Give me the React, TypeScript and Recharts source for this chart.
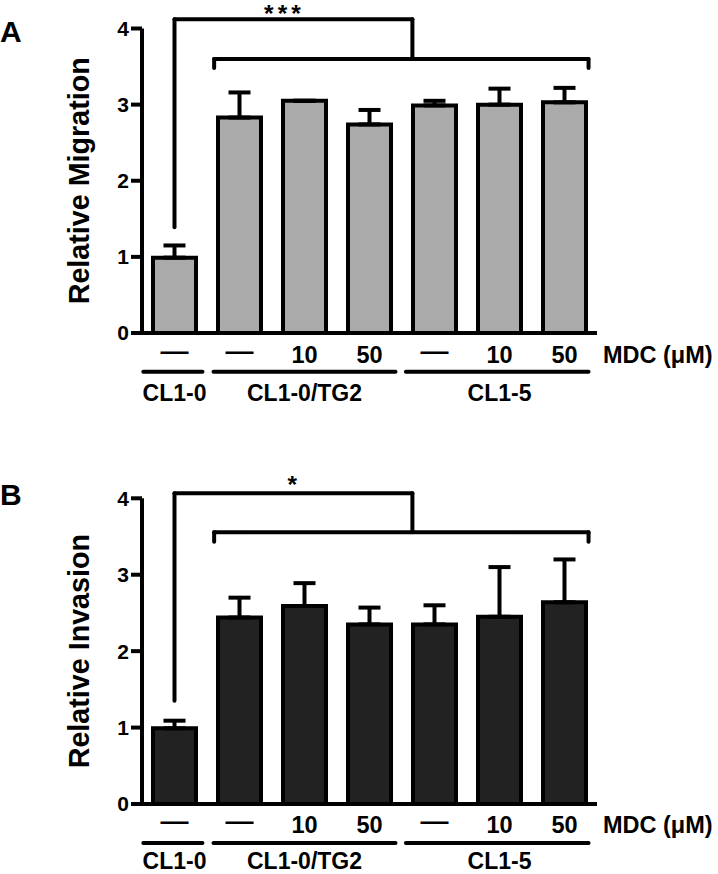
import React from 'react';
import { BarChart, Bar, XAxis, YAxis, ErrorBar, ReferenceLine, ReferenceDot } from 'recharts';

const FONT = '"Liberation Sans", Arial, Helvetica, sans-serif';

// categories (bar positions along the x axis) and their labels
const positions = [0, 1, 2, 3, 4, 5, 6];
const doseLabels = ['—', '—', '10', '50', '—', '10', '50'];
const groupLabels = ['CL1-0', '', 'CL1-0/TG2', '', '', 'CL1-5', ''];
const yTicks = [0, 1, 2, 3, 4];

// Panel A: relative migration
const migrationMean = [0.99, 2.83, 3.05, 2.74, 2.99, 3.0, 3.03];
const migrationSem = [0.16, 0.33, 0, 0.19, 0.06, 0.21, 0.19];

// Panel B: relative invasion
const invasionMean = [0.99, 2.44, 2.59, 2.35, 2.35, 2.45, 2.64];
const invasionSem = [0.1, 0.26, 0.3, 0.22, 0.25, 0.65, 0.56];

// group underline spans (in x-axis units)
const underlineSpans: [number, number][] = [
  [-0.48, 0.43],
  [0.6, 3.4],
  [3.56, 6.37],
];
const underlineY = -0.51;

// significance brackets (x in axis units, y in data units)
const outerBracketX: [number, number] = [0, 3.66];
const innerBracketX: [number, number] = [0.61, 6.37];
const bracketsA = { outerTop: 4.12, outerLeftBottom: 1.39, innerY: 3.6, innerTip: 3.48, stars: '***', starX: 1.66, starY: 4.08 };
const bracketsB = { outerTop: 4.067, outerLeftBottom: 1.35, innerY: 3.556, innerTip: 3.433, stars: '*', starX: 1.81, starY: 4.075 };

type Brackets = typeof bracketsA;

type PanelProps = {
  letter: string;
  mean: number[];
  sem: number[];
  fill: string;
  yLabel: string;
  marginTop: number;
  marginBottom: number;
  brackets: Brackets;
  letterTop: number;
  row1: number;
  row3: number;
};

const LINE = { stroke: '#000', strokeWidth: 4 };

function Panel({ letter, mean, sem, fill, yLabel, marginTop, marginBottom, brackets, letterTop, row1, row3 }: PanelProps) {
  const data = positions.map((p, i) => ({ pos: p, value: mean[i], err: [0, sem[i]] }));

  const renderTick = (props: any) => {
    const { x, y, payload } = props;
    const i = Math.round(payload.value);
    const dose = doseLabels[i];
    const group = groupLabels[i];
    const isDash = dose === '—';
    return (
      <g>
        <text
          x={x}
          y={y + row1 + (isDash ? -4 : 0)}
          dy="0.355em"
          textAnchor="middle"
          fontFamily={FONT}
          fontWeight="bold"
          fontSize={23.5}
          fill="#000"
          {...(isDash ? { textLength: 28, lengthAdjust: 'spacingAndGlyphs' } : {})}
        >
          {dose}
        </text>
        {group ? (
          <text x={x} y={y + row3} dy="0.355em" textAnchor="middle" fontFamily={FONT} fontWeight="bold" fontSize={23} fill="#000">
            {group}
          </text>
        ) : null}
      </g>
    );
  };

  const yLabelContent = (props: any) => {
    const vb = props.viewBox;
    const bx = vb.x + vb.width - 53;
    const cy = vb.y + vb.height / 2;
    return (
      <text x={bx} y={cy} transform={`rotate(-90 ${bx} ${cy})`} textAnchor="middle" fontFamily={FONT} fontWeight="bold" fontSize={28.7} fill="#000">
        {yLabel}
      </text>
    );
  };

  const xLabelContent = (props: any) => {
    const vb = props.viewBox;
    return (
      <text x={vb.x + vb.width + 6} y={vb.y + row1} dy="0.355em" textAnchor="start" fontFamily={FONT} fontWeight="bold" fontSize={23.5} fill="#000">
        MDC (μM)
      </text>
    );
  };

  const starContent = (props: any) => {
    const vb = props.viewBox;
    return (
      <text
        x={vb.x + vb.width / 2 + 2}
        y={vb.y + vb.height / 2}
        textAnchor="middle"
        fontFamily={FONT}
        fontWeight="bold"
        fontSize={24.5}
        letterSpacing={4}
        fill="#000"
      >
        {brackets.stars}
      </text>
    );
  };

  const seg = (x1: number, y1: number, x2: number, y2: number, key: string) => (
    <ReferenceLine
      key={key}
      segment={[{ x: x1, y: y1 }, { x: x2, y: y2 }]}
      ifOverflow="visible"
      stroke="#000"
      strokeWidth={4}
      strokeLinecap="round"
    />
  );

  return (
    <div style={{ position: 'relative', width: 718, height: 437 }}>
      <div
        style={{
          position: 'absolute',
          left: 0,
          top: letterTop,
          fontFamily: FONT,
          fontWeight: 'bold',
          fontSize: 30,
          lineHeight: '30px',
          color: '#000',
        }}
      >
        {letter}
      </div>
      <BarChart width={718} height={437} data={data} margin={{ top: marginTop, right: 121, left: 0, bottom: marginBottom }}>
        <XAxis
          dataKey="pos"
          type="number"
          domain={[-0.5, 6.5]}
          ticks={positions}
          allowDataOverflow
          height={44}
          tickLine={false}
          tickSize={0}
          tickMargin={0}
          axisLine={LINE}
          tick={renderTick}
          interval={0}
          label={xLabelContent}
        />
        <YAxis
          type="number"
          domain={[0, 4]}
          ticks={yTicks}
          width={142}
          tickSize={11}
          tickMargin={2}
          axisLine={LINE}
          tickLine={LINE}
          tick={{ fontFamily: FONT, fontWeight: 'bold', fontSize: 21, fill: '#000' }}
          label={yLabelContent}
        />
        <Bar dataKey="value" fill={fill} stroke="#000" strokeWidth={4} barSize={43} isAnimationActive={false}>
          <ErrorBar dataKey="err" direction="y" width={11} stroke="#000" strokeWidth={4} isAnimationActive={false} />
        </Bar>
        {seg(outerBracketX[0], brackets.outerLeftBottom, outerBracketX[0], brackets.outerTop, 'o1')}
        {seg(outerBracketX[0], brackets.outerTop, outerBracketX[1], brackets.outerTop, 'o2')}
        {seg(outerBracketX[1], brackets.outerTop, outerBracketX[1], brackets.innerY, 'o3')}
        {seg(innerBracketX[0], brackets.innerTip, innerBracketX[0], brackets.innerY, 'i1')}
        {seg(innerBracketX[0], brackets.innerY, innerBracketX[1], brackets.innerY, 'i2')}
        {seg(innerBracketX[1], brackets.innerY, innerBracketX[1], brackets.innerTip, 'i3')}
        {underlineSpans.map((s, i) => seg(s[0], underlineY, s[1], underlineY, 'u' + i))}
        <ReferenceDot x={brackets.starX} y={brackets.starY} r={0} ifOverflow="visible" fill="none" stroke="none" label={starContent} />
      </BarChart>
    </div>
  );
}

export default function App() {
  return (
    <div style={{ position: 'absolute', left: 0, top: 0, width: 718, height: 874, background: '#fff' }}>
      <Panel
        letter="A"
        mean={migrationMean}
        sem={migrationSem}
        fill="#aaaaaa"
        yLabel="Relative Migration"
        marginTop={28.5}
        marginBottom={60}
        brackets={bracketsA}
        letterTop={16.6}
        row1={22}
        row3={60}
      />
      <Panel
        letter="B"
        mean={invasionMean}
        sem={invasionSem}
        fill="#222222"
        yLabel="Relative Invasion"
        marginTop={61.3}
        marginBottom={26}
        brackets={bracketsB}
        letterTop={42.6}
        row1={21}
        row3={56.5}
      />
    </div>
  );
}
